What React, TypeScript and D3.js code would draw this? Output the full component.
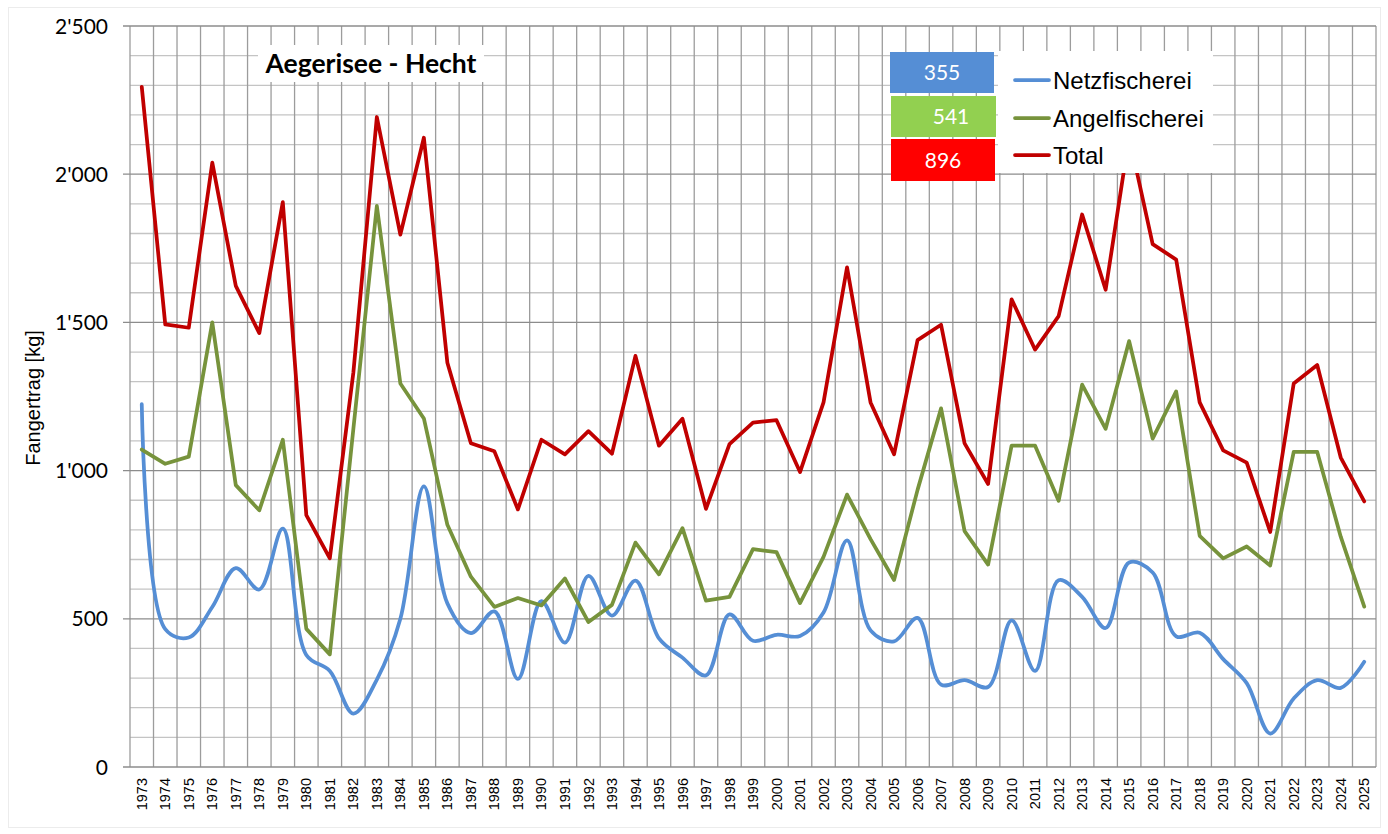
import React from "react";
import * as d3 from "d3";

const years: string[] = [
  "1973","1974","1975","1976","1977","1978","1979","1980","1981","1982",
  "1983","1984","1985","1986","1987","1988","1989","1990","1991","1992",
  "1993","1994","1995","1996","1997","1998","1999","2000","2001","2002",
  "2003","2004","2005","2006","2007","2008","2009","2010","2011","2012",
  "2013","2014","2015","2016","2017","2018","2019","2020","2021","2022",
  "2023","2024","2025",
];

const netzfischerei: number[] = [
  1224, 465, 437, 540, 671, 599, 804, 378, 324, 180,
  295, 500, 947, 552, 452, 525, 297, 560, 420, 645,
  511, 629, 434, 369, 309, 515, 426, 446, 442, 521,
  765, 461, 424, 503, 278, 293, 270, 495, 324, 630,
  574, 469, 690, 656, 441, 453, 364, 283, 113, 231,
  293, 267, 355,
];

const angelfischerei: number[] = [
  1071, 1023, 1047, 1500, 951, 866, 1104, 466, 380, 1140,
  1893, 1294, 1176, 817, 642, 540, 570, 545, 636, 489,
  547, 757, 650, 806, 561, 574, 735, 725, 553, 709,
  919, 769, 631, 935, 1210, 796, 683, 1084, 1084, 898,
  1290, 1141, 1437, 1108, 1267, 780, 704, 744, 680, 1063,
  1063, 777, 541,
];

const total: number[] = [
  2295, 1493, 1482, 2039, 1623, 1464, 1906, 850, 704, 1330,
  2193, 1796, 2123, 1364, 1092, 1065, 869, 1104, 1055, 1133,
  1057, 1387, 1084, 1175, 871, 1089, 1162, 1170, 995, 1230,
  1686, 1230, 1055, 1440, 1492, 1092, 955, 1578, 1408, 1521,
  1864, 1610, 2127, 1764, 1712, 1230, 1068, 1027, 793, 1294,
  1356, 1044, 896,
];

const yMajorTicks: number[] = [0, 500, 1000, 1500, 2000, 2500];
const yMinorTicks: number[] = d3.range(100, 2500, 100).filter((v) => v % 500 !== 0);

const seriesNames = ["Netzfischerei", "Angelfischerei", "Total"];
const lastValues = ["355", "541", "896"];

const W = 1388;
const H = 834;
const left = 130;
const right = 1376;
const top = 26;
const bottom = 767;

const fmt = (v: number) => {
  if (v >= 1000) {
    const th = Math.floor(v / 1000);
    const rest = String(v % 1000).padStart(3, "0");
    return `${th}'${rest}`;
  }
  return String(v);
};

export default function App() {
  const x = d3.scaleBand<string>().domain(years).range([left, right]).padding(0);
  const y = d3.scaleLinear().domain([0, 2500]).range([bottom, top]);
  const cx = (yr: string) => (x(yr) as number) + x.bandwidth() / 2;

  const straight = d3
    .line<number>()
    .x((_, i) => cx(years[i]))
    .y((d) => y(d));
  const smooth = d3
    .line<number>()
    .x((_, i) => cx(years[i]))
    .y((d) => y(d))
    .curve(d3.curveCatmullRom.alpha(0.5));

  const colors = ["#558ED5", "#77933C", "#C00000"];
  const boxColors = ["#558ED5", "#92D050", "#FF0000"];

  const boundaries = years.map((yr) => x(yr) as number).concat([right]);

  return (
    <svg
      width={W}
      height={H}
      style={{ position: "absolute", left: 0, top: 0, background: "#fff" }}
    >
      <rect x={0} y={0} width={W} height={H} fill="#fff" />
      <rect x={8.5} y={7.5} width={W - 16} height={H - 14} fill="none" stroke="#ececec" />

      {/* minor horizontal grid */}
      {yMinorTicks.map((v) => (
        <line key={"mn" + v} x1={left} x2={right} y1={y(v)} y2={y(v)} stroke="#C4C4C4" strokeWidth={1.3} />
      ))}
      {/* vertical grid */}
      {boundaries.map((bx, i) => (
        <line key={"vg" + i} x1={bx} x2={bx} y1={top} y2={bottom} stroke="#9C9C9C" strokeWidth={1.3} />
      ))}
      {/* major horizontal grid */}
      {yMajorTicks.map((v) => (
        <line key={"mj" + v} x1={left - 7} x2={right} y1={y(v)} y2={y(v)} stroke="#8C8C8C" strokeWidth={1.3} />
      ))}

      {/* y tick labels */}
      {yMajorTicks.map((v) => (
        <text
          key={"yl" + v}
          x={108}
          y={y(v)}
          dy="0.36em"
          textAnchor="end"
          fontFamily="Lato"
          fontSize={21}
          fill="#000"
        >
          {fmt(v)}
        </text>
      ))}

      {/* x tick labels */}
      {years.map((yr) => (
        <text
          key={"xl" + yr}
          transform={`translate(${cx(yr)},778) rotate(-90)`}
          textAnchor="end"
          dy="0.35em"
          fontFamily="Liberation Sans, Arial"
          fontSize={14.5}
          fill="#000"
        >
          {yr}
        </text>
      ))}

      {/* y axis title */}
      <text
        transform={`translate(33,398) rotate(-90)`}
        textAnchor="middle"
        dy="0.35em"
        fontFamily="Liberation Sans, Arial"
        fontSize={20}
        fill="#000"
      >
        Fangertrag [kg]
      </text>

      {/* series */}
      <path d={smooth(netzfischerei) || ""} fill="none" stroke={colors[0]} strokeWidth={3.75} strokeLinejoin="round" strokeLinecap="round" />
      <path d={straight(angelfischerei) || ""} fill="none" stroke={colors[1]} strokeWidth={3.75} strokeLinejoin="round" strokeLinecap="round" />
      <path d={straight(total) || ""} fill="none" stroke={colors[2]} strokeWidth={3.75} strokeLinejoin="round" strokeLinecap="round" />

      {/* title */}
      <rect x={258} y={45} width={226} height={37} fill="#fff" />
      <text x={371} y={63} dy="0.36em" textAnchor="middle" fontFamily="Lato" fontWeight="bold" fontSize={26.5} fill="#000">
        Aegerisee - Hecht
      </text>

      {/* value boxes */}
      {[
        { x0: 890, y0: 52, w: 104, h: 41, tx: 942 },
        { x0: 891, y0: 96, w: 105, h: 41, tx: 951 },
        { x0: 891, y0: 139, w: 104, h: 42, tx: 943 },
      ].map((b, i) => (
        <g key={"box" + i}>
          <rect x={b.x0} y={b.y0} width={b.w} height={b.h} fill={boxColors[i]} />
          <text x={b.tx} y={b.y0 + b.h / 2} dy="0.36em" textAnchor="middle" fontFamily="Lato" fontSize={21} fill="#fff">
            {lastValues[i]}
          </text>
        </g>
      ))}

      {/* legend */}
      <rect x={998} y={51} width={215} height={122} fill="#fff" />
      {seriesNames.map((name, i) => {
        const ly = [80, 118, 155][i];
        return (
          <g key={"lg" + i}>
            <line x1={1015} x2={1049} y1={ly} y2={ly} stroke={colors[i]} strokeWidth={3.75} strokeLinecap="round" />
            <text x={1053} y={ly} dy="0.36em" fontFamily="Liberation Sans, Arial" fontSize={24} fill="#000">
              {name}
            </text>
          </g>
        );
      })}
    </svg>
  );
}
